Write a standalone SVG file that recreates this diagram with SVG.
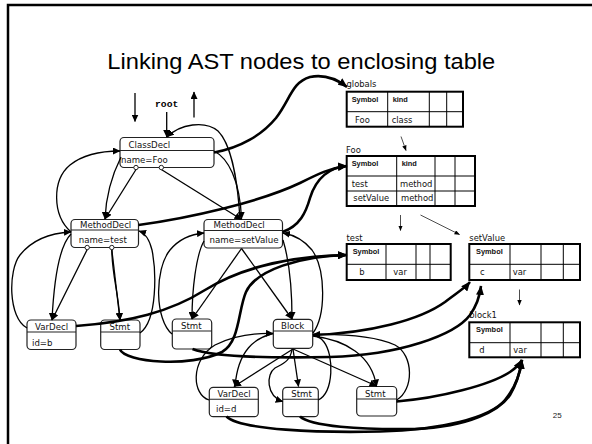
<svg xmlns="http://www.w3.org/2000/svg" width="592" height="444" viewBox="0 0 592 444">
  <defs>
    <marker id="arr" markerUnits="userSpaceOnUse" markerWidth="8" markerHeight="7" refX="7" refY="3.5" orient="auto">
      <path d="M0,0 L7.5,3.5 L0,7 Z" fill="#000"/>
    </marker>
    <marker id="arrBig" markerUnits="userSpaceOnUse" markerWidth="10" markerHeight="8" refX="9" refY="4" orient="auto">
      <path d="M0,0 L9.5,4 L0,8 Z" fill="#000"/>
    </marker>
    <marker id="arrThin" markerUnits="userSpaceOnUse" markerWidth="6" markerHeight="5" refX="5" refY="2.2" orient="auto">
      <path d="M0,0 L5.5,2.2 L0,4.4 Z" fill="#000"/>
    </marker>
  </defs>
  <style>
    .node rect { fill: #fff; stroke: #222; stroke-width: 1.2; }
    .node line { stroke: #222; stroke-width: 1.1; }
    .nt { font-family: "DejaVu Sans", "Liberation Sans", sans-serif; font-size: 8.6px; fill: #111; }
    .tbl .outer { fill: #fff; stroke: #000; stroke-width: 2; }
    .tbl line { stroke: #000; stroke-width: 1; }
    .th { font-family: "Liberation Sans", Arial, sans-serif; font-size: 7.4px; font-weight: bold; fill: #111; }
    .td { font-family: "DejaVu Sans", "Liberation Sans", sans-serif; font-size: 8.4px; fill: #111; }
    .lbl { font-family: "DejaVu Sans", "Liberation Sans", sans-serif; font-size: 8.4px; fill: #111; }
    .edge { fill: none; stroke: #000; stroke-width: 1.3; marker-end: url(#arr); }
    .link { fill: none; stroke: #000; stroke-width: 2.6; marker-end: url(#arrBig); }
    .thin { fill: none; stroke: #000; stroke-width: 0.7; marker-end: url(#arrThin); }
    .pin { fill: #fff; stroke: #222; stroke-width: 1; }
  </style>

  <!-- slide frame -->
  <path d="M8,444 L8,5 L592,5" fill="none" stroke="#000" stroke-width="2.5"/>

  <text x="107.3" y="69.3" font-family="Liberation Sans, Arial, sans-serif" font-size="22.5" textLength="388" lengthAdjust="spacingAndGlyphs" fill="#000">Linking AST nodes to enclosing table</text>

  <text x="155" y="106.7" font-family="Liberation Mono, Courier New, monospace" font-size="9.7" font-weight="bold" fill="#000">root</text>

  <!-- AST nodes -->
  <g id="classdecl" class="node">
    <rect x="120" y="137.5" width="94" height="30" rx="4"/>
    <line x1="120" y1="150.5" x2="214" y2="150.5"/>
    <text class="nt" x="128.5" y="148">ClassDecl</text>
    <text class="nt" x="121" y="162.7">name=Foo</text>
  </g>
  <g id="methoddecl-test" class="node">
    <rect x="71" y="219.5" width="67.5" height="28" rx="4"/>
    <line x1="71" y1="230" x2="138.5" y2="230"/>
    <text class="nt" x="80" y="228">MethodDecl</text>
    <text class="nt" x="78.7" y="242.7">name=test</text>
  </g>
  <g id="methoddecl-setvalue" class="node">
    <rect x="204" y="219.5" width="78.5" height="28.5" rx="4"/>
    <line x1="204" y1="230.5" x2="282.5" y2="230.5"/>
    <text class="nt" x="213.5" y="228">MethodDecl</text>
    <text class="nt" x="209.5" y="243" textLength="69" lengthAdjust="spacingAndGlyphs">name=setValue</text>
  </g>
  <g id="vardecl-b" class="node">
    <rect x="27" y="320" width="49" height="29.5" rx="4"/>
    <line x1="27" y1="332" x2="76" y2="332"/>
    <text class="nt" x="35" y="330">VarDecl</text>
    <text class="nt" x="32" y="346">id=b</text>
  </g>
  <g id="stmt-test" class="node">
    <rect x="100.7" y="320" width="39.3" height="29.5" rx="4"/>
    <line x1="100.7" y1="332" x2="140" y2="332"/>
    <text class="nt" x="109.5" y="330">Stmt</text>
  </g>
  <g id="stmt-setvalue" class="node">
    <rect x="172.3" y="319" width="39.4" height="30" rx="4"/>
    <line x1="172.3" y1="331" x2="211.7" y2="331"/>
    <text class="nt" x="181" y="329">Stmt</text>
  </g>
  <g id="block" class="node">
    <rect x="273.3" y="319.3" width="39.4" height="29" rx="4"/>
    <line x1="273.3" y1="331" x2="312.7" y2="331"/>
    <text class="nt" x="281" y="329.3">Block</text>
  </g>
  <g id="vardecl-d" class="node">
    <rect x="209.3" y="387.3" width="49" height="29.4" rx="4"/>
    <line x1="209.3" y1="399.3" x2="258.3" y2="399.3"/>
    <text class="nt" x="217.5" y="397.3">VarDecl</text>
    <text class="nt" x="216" y="411.7">id=d</text>
  </g>
  <g id="stmt-block-1" class="node">
    <rect x="282.7" y="387.3" width="35.6" height="29.4" rx="4"/>
    <line x1="282.7" y1="399.3" x2="318.3" y2="399.3"/>
    <text class="nt" x="291.3" y="397.3">Stmt</text>
  </g>
  <g id="stmt-block-2" class="node">
    <rect x="356.7" y="386.5" width="40" height="29.5" rx="4"/>
    <line x1="356.7" y1="399" x2="396.7" y2="399"/>
    <text class="nt" x="365" y="397">Stmt</text>
  </g>

  <!-- symbol tables -->
  <g id="table-globals" class="tbl">
    <text class="lbl" x="346.5" y="87">globals</text>
    <rect class="outer" x="346.7" y="91.7" width="116.3" height="35"/>
    <line x1="346.7" y1="111.7" x2="463" y2="111.7"/>
    <line x1="387.7" y1="91.7" x2="387.7" y2="126.7"/>
    <line x1="429.3" y1="91.7" x2="429.3" y2="126.7"/>
    <line x1="446.7" y1="91.7" x2="446.7" y2="126.7"/>
    <text class="th" x="351.7" y="101.5">Symbol</text>
    <text class="th" x="392.7" y="101.5">kind</text>
    <text class="td" x="355" y="123.3">Foo</text>
    <text class="td" x="391.7" y="123.3">class</text>
  </g>
  <g id="table-foo" class="tbl">
    <text class="lbl" x="346" y="152.7">Foo</text>
    <rect class="outer" x="346.7" y="156" width="128.3" height="50"/>
    <line x1="346.7" y1="176" x2="475" y2="176"/>
    <line x1="346.7" y1="191" x2="475" y2="191"/>
    <line x1="396.7" y1="156" x2="396.7" y2="206"/>
    <line x1="435" y1="156" x2="435" y2="206"/>
    <line x1="455" y1="156" x2="455" y2="206"/>
    <text class="th" x="351.7" y="165.5">Symbol</text>
    <text class="th" x="401.7" y="165.5">kind</text>
    <text class="td" x="351.7" y="186.7">test</text>
    <text class="td" x="400" y="186.7">method</text>
    <text class="td" x="353.3" y="201">setValue</text>
    <text class="td" x="401" y="201">method</text>
  </g>
  <g id="table-test" class="tbl">
    <text class="lbl" x="346.5" y="240.7">test</text>
    <rect class="outer" x="346.7" y="244" width="104" height="36"/>
    <line x1="346.7" y1="264.3" x2="450.7" y2="264.3"/>
    <line x1="386" y1="244" x2="386" y2="280"/>
    <line x1="416" y1="244" x2="416" y2="280"/>
    <line x1="430" y1="244" x2="430" y2="280"/>
    <text class="th" x="352.7" y="254.3">Symbol</text>
    <text class="td" x="359.3" y="275">b</text>
    <text class="td" x="393.3" y="275">var</text>
  </g>
  <g id="table-setvalue" class="tbl">
    <text class="lbl" x="469.3" y="240.7">setValue</text>
    <rect class="outer" x="469.3" y="244" width="110.7" height="36"/>
    <line x1="469.3" y1="264.3" x2="580" y2="264.3"/>
    <line x1="510" y1="244" x2="510" y2="280"/>
    <line x1="541" y1="244" x2="541" y2="280"/>
    <line x1="563.3" y1="244" x2="563.3" y2="280"/>
    <text class="th" x="476" y="254">Symbol</text>
    <text class="td" x="480" y="275">c</text>
    <text class="td" x="512.7" y="275">var</text>
  </g>
  <g id="table-block1" class="tbl">
    <text class="lbl" x="469.3" y="318.3">block1</text>
    <rect class="outer" x="469.3" y="322.3" width="110.7" height="35"/>
    <line x1="469.3" y1="342.7" x2="580" y2="342.7"/>
    <line x1="510" y1="322.3" x2="510" y2="357.3"/>
    <line x1="541" y1="322.3" x2="541" y2="357.3"/>
    <line x1="563.3" y1="322.3" x2="563.3" y2="357.3"/>
    <text class="th" x="476" y="331.7">Symbol</text>
    <text class="td" x="479.3" y="352.7">d</text>
    <text class="td" x="513.3" y="352.7">var</text>
  </g>

  <text x="552.7" y="417.7" font-family="Liberation Sans, Arial, sans-serif" font-size="8" fill="#222">25</text>

  <!-- connectors -->
  <g id="connectors">
    <!-- entry arrows above the root -->
    <path class="edge" d="M135,93 L135,121.5"/>
    <path class="edge" d="M166.7,112 L166.7,137"/>
    <path class="edge" d="M194,117.5 L194,92"/>

    <!-- table chain -->
    <path class="thin" d="M401,136.5 L406,150.5"/>
    <path class="thin" d="M400.5,215 L400.5,230.5"/>
    <path class="thin" d="M420.5,215 L459.5,234.5"/>
    <path class="thin" d="M519.5,289.5 L519.5,305"/>

    <!-- ClassDecl children and parent links -->
    <path class="edge" d="M240,219.5 C238,185 232,145 218,131 C205,120 180,124 167,137"/>
    <path class="edge" d="M214,151 C228,158 240,180 241.5,219"/>
    <path class="edge" d="M161.3,169.5 L241.5,219.5"/>
    <path class="edge" d="M136,169.5 L105,219"/>
    <path class="edge" d="M121,157 C112,175 106,195 105,219"/>
    <path class="edge" d="M71,232 C52,215 52,180 70,165 C85,153 105,151 120,151"/>

    <!-- MethodDecl test children and parent links -->
    <path class="edge" d="M87.2,249.5 L52,320"/>
    <path class="edge" d="M71,234 C60,245 54,280 52,320"/>
    <path class="edge" d="M27,328 C8,318 8,270 20,255 C32,240 50,233 71,232"/>
    <path class="edge" d="M111.8,249.5 L120,320"/>
    <path class="edge" d="M111.8,249.5 C112,275 118,290 120,320"/>
    <path class="edge" d="M140,333 C158,320 156,270 152,250 C149,238 145,233 139,231"/>

    <!-- MethodDecl setValue children and parent links -->
    <path class="edge" d="M241.5,248.5 L192,319"/>
    <path class="edge" d="M241.5,248.5 L292,319"/>
    <path class="edge" d="M204,241 C196,255 192,290 192,319"/>
    <path class="edge" d="M172,334 C155,320 154,270 170,250 C180,238 192,234 204,233"/>
    <path class="edge" d="M283,240 C289,260 292,290 292,319"/>
    <path class="edge" d="M313,333 C326,315 326,270 312,250 C304,240 294,235 283,233"/>

    <!-- Block children and parent links -->
    <path class="edge" d="M293,349 L234,386.5"/>
    <path class="edge" d="M293,349 L298.5,386.5"/>
    <path class="edge" d="M293,349 L376.5,386"/>
    <path class="edge" d="M273,333.5 C255,338 238,350 235,386.5"/>
    <path class="edge" d="M209,400 C192,395 190,360 215,345 C235,335 255,333 273,333.5"/>
    <path class="edge" d="M292,349.5 C290,362 282,364 275,368 C266,374 266,396 282.7,401.5"/>
    <path class="edge" d="M318.3,400 C334,392 334,355 324,342 C320,337 317,335 313,334.5"/>
    <path class="edge" d="M396.7,400 C414,390 414,355 395,345 C375,336 340,334 313,334.5"/>
    <path class="edge" d="M313,336 C345,340 372,355 376.5,386.5"/>

    <!-- links to enclosing tables -->
    <path class="link" d="M214,152.5 C240,148 262,135 276,118 C290,100 292,82 310,77 C325,74 338,80 347,87"/>
    <path class="link" d="M138.5,225 C190,218 260,202 300,183 C318,174 330,168 347,166"/>
    <path class="link" d="M282.5,232 C300,226 306,212 310,198 C316,178 330,167 347,166"/>
    <path class="link" d="M76,326 C130,322 170,312 205,290 C240,268 290,256 347,255"/>
    <path class="link" d="M120,349.5 C125,362 190,368 222,352 C240,342 238,310 246,292 C256,270 300,256 347,255"/>
    <path class="link" d="M192.5,349 C215,358 280,358 330,357 C400,355 455,335 470,315 C477,305 480,295 481,286"/>
    <path class="link" d="M313,335 C370,333 420,320 445,302 C458,292 465,288 470,282"/>
    <path class="link" d="M396.5,401.5 C440,398 490,385 510,372 C516,368 519,365 522,360"/>
    <path class="link" d="M226.5,416.5 C240,430 320,433 380,431.5 C440,430 490,418 505,400 C515,388 520,375 522,360"/>
    <path class="link" d="M300,416.5 C310,426 360,430 415,429 C470,427 500,410 510,395 C516,385 520,372 522,360"/>
  </g>

  <!-- attribute pins drawn over the edges that leave them -->
  <circle class="pin" cx="136" cy="167.5" r="2.2"/>
  <circle class="pin" cx="161.3" cy="167.5" r="2.2"/>
  <circle class="pin" cx="87.2" cy="247.5" r="2.2"/>
  <circle class="pin" cx="111.8" cy="247.5" r="2.2"/>
</svg>
